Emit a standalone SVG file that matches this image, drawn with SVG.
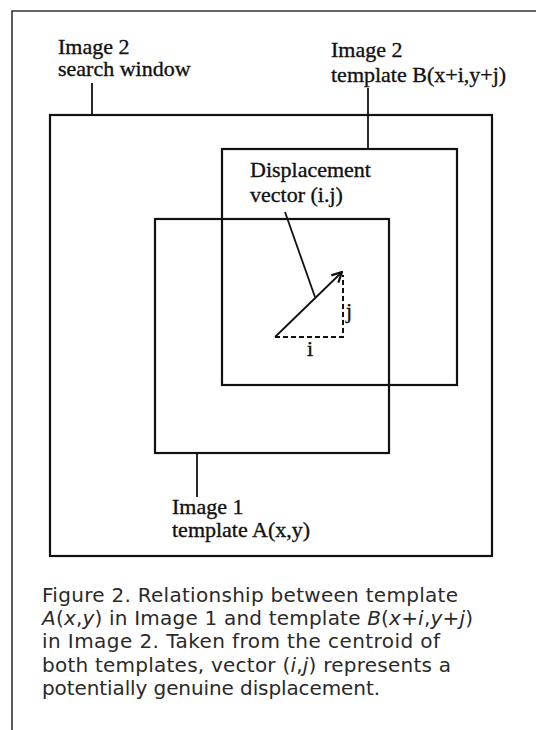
<svg xmlns="http://www.w3.org/2000/svg" width="536" height="730" viewBox="0 0 536 730">
<style>
.box{fill:none;stroke:#111;stroke-width:2.2}
.frame{fill:none;stroke:#333;stroke-width:1.6}
.lead{fill:none;stroke:#111;stroke-width:1.8}
.dash{fill:none;stroke:#111;stroke-width:2;stroke-dasharray:5 3}
.lbl{font-family:"Liberation Serif","Times New Roman",serif;font-size:22px;fill:#111;stroke:#111;stroke-width:0.35}
.cap{font-family:"DejaVu Sans","Liberation Sans",sans-serif;font-size:20px;fill:#2a2a2a}
.it{font-style:italic}
</style>
<defs>
<marker id="ah" viewBox="0 0 12 12" refX="11" refY="6" markerWidth="12" markerHeight="12" markerUnits="userSpaceOnUse" orient="auto">
<path d="M1,1 L11,6 L1,11" fill="none" stroke="#111" stroke-width="2.2"/>
</marker>
</defs>
<rect width="536" height="730" fill="#fff"/>
<g id="frame">
<path class="frame" d="M12,730 V11 H536"/>
</g>
<g id="search-window">
<rect class="box" x="50" y="115" width="442" height="441"/>
<text class="lbl" x="58" y="54">Image 2</text>
<text class="lbl" x="58" y="76">search window</text>
</g>
<g id="template-b">
<rect class="box" x="222" y="149" width="235" height="236"/>
<text class="lbl" x="331" y="57">Image 2</text>
<text class="lbl" x="331" y="82">template B(x+i,y+j)</text>
</g>
<g id="template-a">
<rect class="box" x="155" y="219" width="234" height="234"/>
<text class="lbl" x="172" y="514">Image 1</text>
<text class="lbl" x="172" y="537">template A(x,y)</text>
</g>
<g id="displacement">
<text class="lbl" x="250" y="177">Displacement</text>
<text class="lbl" x="250" y="202">vector (i.j)</text>
<path class="dash" d="M275,337 H343 V275"/>
<text class="lbl" x="307" y="356">i</text>
<text class="lbl" x="346" y="318">j</text>
</g>
<g id="connectors">
<path class="lead" d="M92,83 V115"/>
<path class="lead" d="M368,88 V149"/>
<path class="lead" d="M197,453 V497"/>
<path class="lead" d="M285,212 L315,297"/>
<path class="lead" d="M275,337 L342,272" stroke-width="2.2" marker-end="url(#ah)"/>
</g>
<g id="caption">
<text class="cap" x="42" y="602" textLength="416" lengthAdjust="spacing">Figure 2. Relationship between template</text>
<text class="cap" x="42" y="625" textLength="431" lengthAdjust="spacing"><tspan class="it">A</tspan>(<tspan class="it">x</tspan>,<tspan class="it">y</tspan>) in Image 1 and template <tspan class="it">B</tspan>(<tspan class="it">x</tspan>+<tspan class="it">i</tspan>,<tspan class="it">y</tspan>+<tspan class="it">j</tspan>)</text>
<text class="cap" x="42" y="648" textLength="398" lengthAdjust="spacing">in Image 2. Taken from the centroid of</text>
<text class="cap" x="42" y="672" textLength="409" lengthAdjust="spacing">both templates, vector (<tspan class="it">i</tspan>,<tspan class="it">j</tspan>) represents a</text>
<text class="cap" x="42" y="695" textLength="338" lengthAdjust="spacing">potentially genuine displacement.</text>
</g>
</svg>
